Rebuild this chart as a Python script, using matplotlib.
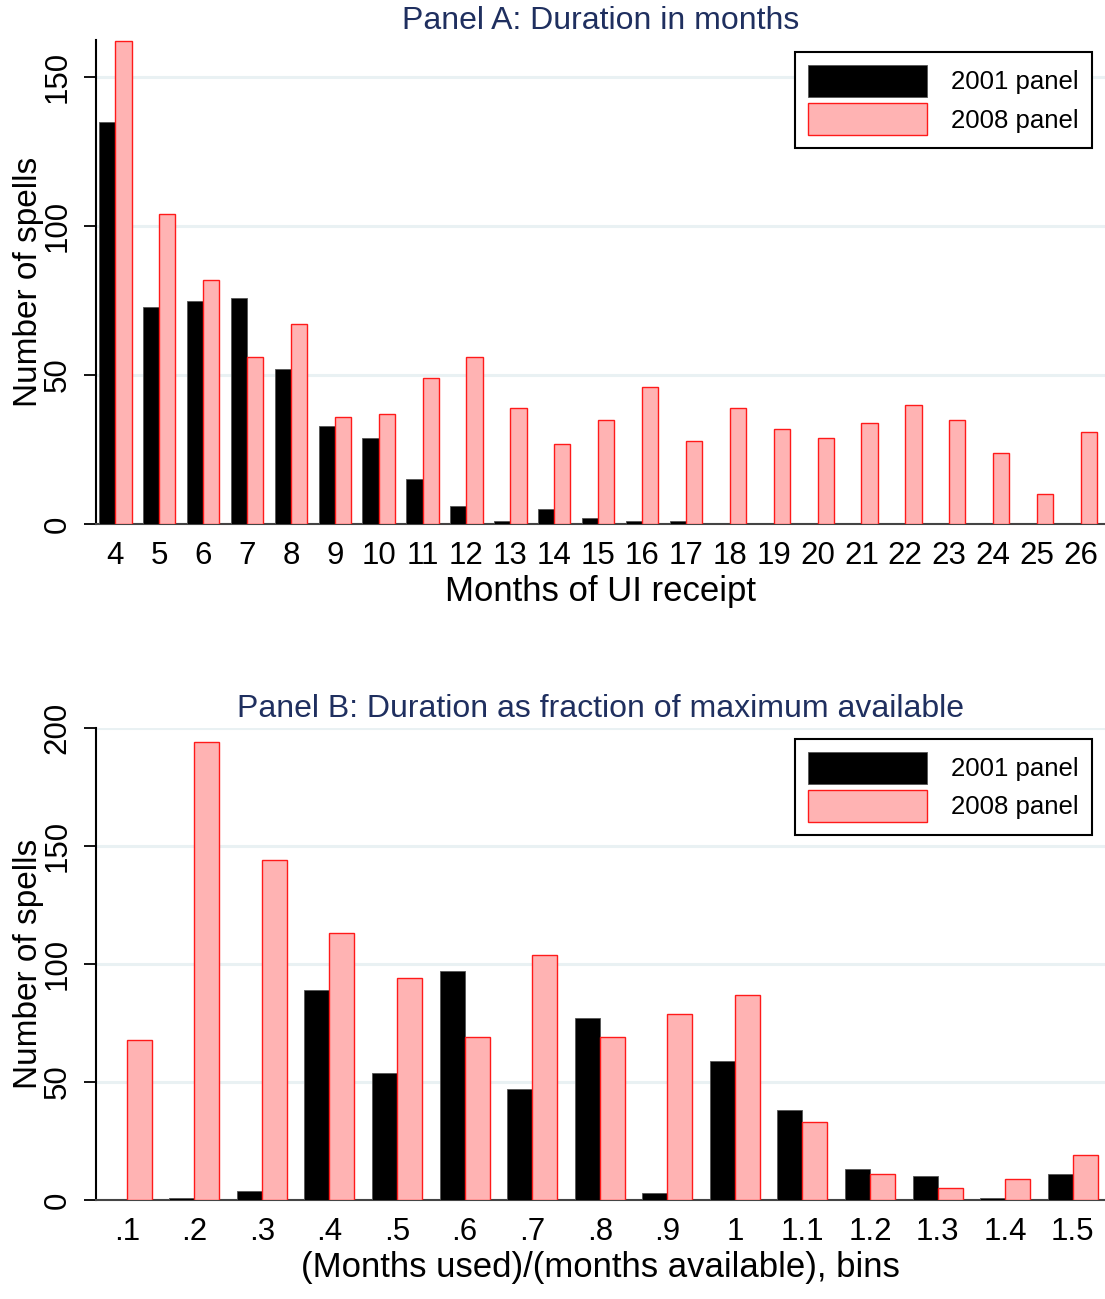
import numpy as np
import matplotlib
matplotlib.use("Agg")
import matplotlib.pyplot as plt

plt.rcParams["font.family"] = ["Liberation Sans", "DejaVu Sans"]

# Panel A: months of UI receipt
months = list(range(4, 27))
a_2001 = [135, 73, 75, 76, 52, 33, 29, 15, 6, 1, 5, 2, 1, 1,
          0, 0, 0, 0, 0, 0, 0, 0, 0]
a_2008 = [162, 104, 82, 56, 67, 36, 37, 49, 56, 39, 27, 35, 46, 28,
          39, 32, 29, 34, 40, 35, 24, 10, 31]

# Panel B: fraction of maximum available
frac_labels = [".1", ".2", ".3", ".4", ".5", ".6", ".7", ".8", ".9",
               "1", "1.1", "1.2", "1.3", "1.4", "1.5"]
b_2001 = [0, 1, 4, 89, 54, 97, 47, 77, 3, 59, 38, 13, 10, 1, 11]
b_2008 = [68, 194, 144, 113, 94, 69, 104, 69, 79, 87, 33, 11, 5, 9, 19]

BLACK = "black"
PINK = "#ffb3b3"
RED = "#ff1a1a"
TITLE_COLOR = "#1f2f5f"
GRID = "#e9f1f3"

TICK_FS = 22.5
TITLE_FS = 23
XLAB_FS = 25
YLAB_FS = 24
LEG_FS = 18.5


def draw_panel(ax, x, s1, s2, title, xlabel, yticks, ylim, xlim,
               xticklabels, leg_top):
    w = 0.37
    ax.bar(x - w/2, s1, w, color=BLACK, edgecolor="#555555", linewidth=0.6,
           label="2001 panel", zorder=3)
    ax.bar(x + w/2, s2, w, color=PINK, edgecolor=RED, linewidth=1.0,
           label="2008 panel", zorder=3)

    ax.set_xlim(*xlim)
    ax.set_ylim(*ylim)
    ax.set_yticks(yticks)
    ax.set_yticklabels([str(t) for t in yticks], rotation=90, va="center",
                       fontsize=TICK_FS)
    ax.set_xticks(x)
    ax.set_xticklabels(xticklabels, fontsize=TICK_FS)
    ax.tick_params(axis="x", length=0, pad=12)
    ax.tick_params(axis="y", length=9, width=1.3, pad=8)

    ax.yaxis.grid(True, color=GRID, linewidth=2.2, zorder=0)
    ax.set_axisbelow(True)
    for side in ["top", "right"]:
        ax.spines[side].set_visible(False)
    ax.spines["left"].set_linewidth(1.5)
    ax.spines["bottom"].set_linewidth(1.5)
    ax.spines["bottom"].set_color("#444444")

    ax.set_title(title, fontsize=TITLE_FS, color=TITLE_COLOR, pad=8)
    ax.set_xlabel(xlabel, fontsize=XLAB_FS, labelpad=3)
    ax.set_ylabel("Number of spells", fontsize=YLAB_FS, labelpad=-1)

    leg = ax.legend(loc="upper right", fontsize=LEG_FS, frameon=True,
                    fancybox=False, edgecolor="black", framealpha=1,
                    handlelength=4.65, handleheight=1.54, handletextpad=0.95,
                    labelspacing=0.24, borderpad=0.5, borderaxespad=0,
                    bbox_to_anchor=(0.987, leg_top))
    leg.get_frame().set_linewidth(1.5)


fig = plt.figure(figsize=(11.05, 12.99), dpi=100)
ax1 = fig.add_axes([0.0869, 0.5966, 0.9131, 0.3726])
ax2 = fig.add_axes([0.0869, 0.0762, 0.9131, 0.3634])

draw_panel(ax1, np.array(months, dtype=float), a_2001, a_2008,
           "Panel A: Duration in months", "Months of UI receipt",
           [0, 50, 100, 150], (0, 162.5), (3.56, 26.55),
           [str(m) for m in months], 0.975)

draw_panel(ax2, np.arange(len(frac_labels), dtype=float), b_2001, b_2008,
           "Panel B: Duration as fraction of maximum available",
           "(Months used)/(months available), bins",
           [0, 50, 100, 150, 200], (0, 200), (-0.454, 14.477),
           frac_labels, 0.977)

fig.savefig("out.png", dpi=100)
